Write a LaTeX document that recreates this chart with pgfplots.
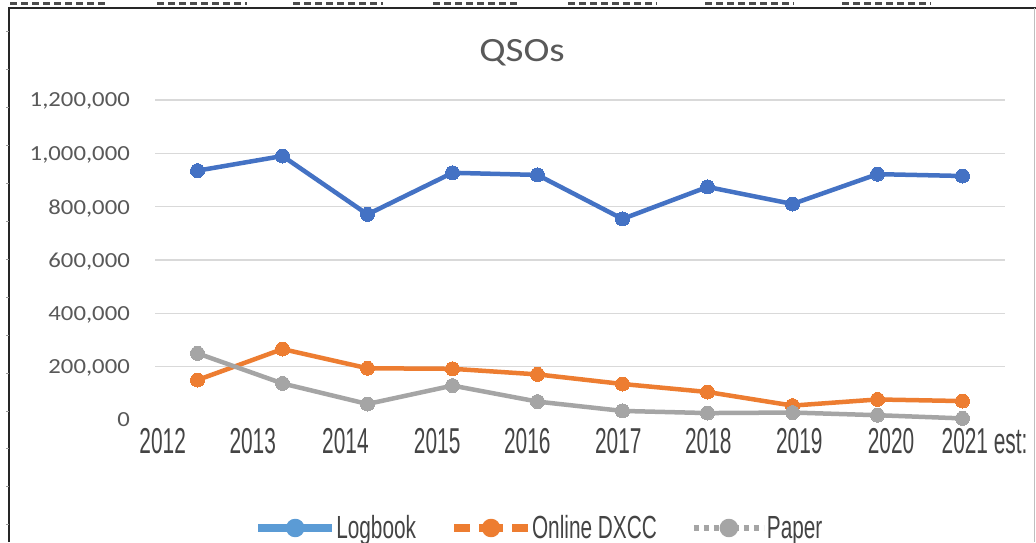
\documentclass[border=0pt]{standalone}
\usepackage{pgfplots}
\pgfplotsset{compat=1.18}
\usepackage{fontspec}
\setmainfont{Carlito}
\newfontfamily\calfont{Carlito}[FakeStretch=1.15]
\newfontfamily\narrowf{Liberation Sans}[FakeStretch=0.58]
\newfontfamily\legf{Liberation Sans}[FakeStretch=0.65]
\definecolor{cblue}{HTML}{4472C4}
\definecolor{lblue}{HTML}{5B9BD5}
\definecolor{corange}{HTML}{ED7D31}
\definecolor{cgray}{HTML}{A5A5A5}
\definecolor{gridgray}{HTML}{D9D9D9}
\definecolor{ticktxt}{HTML}{595959}
\definecolor{xtxt}{HTML}{444444}
\begin{document}
\begin{tikzpicture}
\useasboundingbox (0,0) rectangle (1036pt,542pt);
\fill[white] (0,0) rectangle (1036pt,542pt);
% frame
\draw[line width=2pt, black!85] (9pt,0pt) -- (9pt,534pt) -- (1036pt,534pt);
\draw[line width=1pt, black!25] (1034pt,0pt) -- (1034pt,534pt);
\foreach \k in {0,...,13} {\draw[black!40, line width=1pt] (6pt,{(510-37.9*\k)*1pt}) -- (9pt,{(510-37.9*\k)*1pt});}
\foreach \a/\b in {10/107,157/247,293/383,433/520,568/657,705/794,842/931}
  {\draw[line width=3pt, black!70, dash pattern=on 7pt off 4pt] (\a pt,538.5pt) -- (\b pt,538.5pt);}
\node[font=\calfont\fontsize{34}{34}\selectfont, text=ticktxt, anchor=base, inner sep=0pt] at (522pt,480pt) {QSOs};
\begin{axis}[
  at={(155pt,122pt)}, anchor=south west,
  width=850pt, height=320pt, scale only axis,
  xmin=-0.5, xmax=9.5, ymin=0, ymax=1200000,
  axis line style={draw=none},
  major tick length=0pt, minor tick length=0pt,
  xtick={-0.41,0.65,1.74,2.82,3.88,4.95,6.01,7.08,8.16,9.26},
  xticklabels={2012,2013,2014,2015,2016,2017,2018,2019,2020,{2021 est:}},
  xticklabel style={font=\narrowf\fontsize{36}{36}\selectfont, text=xtxt, inner sep=0pt, anchor=north, yshift=-8pt},
  ytick={0,200000,400000,600000,800000,1000000,1200000},
  minor ytick={200000,400000,600000,800000,1000000,1200000},
  yminorgrids=true,
  minor grid style={color=gridgray, line width=1.3pt},
  scaled y ticks=false,
  yticklabel style={font=\calfont\fontsize{21.5}{21.5}\selectfont, text=ticktxt, inner sep=0pt, anchor=east, xshift=-25pt, text depth=0pt,
    /pgf/number format/fixed, /pgf/number format/1000 sep={,}, /pgf/number format/assume math mode=true},
  legend style={at={(0.113,-0.3375)}, anchor=west, draw=none, fill=none, legend columns=3,
    font=\legf\fontsize{32}{32}\selectfont, text=xtxt, nodes={inner sep=0pt},
    /tikz/every odd column/.append style={column sep=0pt},
    /tikz/every even column/.append style={column sep=34pt}},
]
\addplot[color=cblue, line width=4.5pt, line join=round, mark=*, mark size=7pt, mark options={fill=cblue, draw=cblue, line width=0pt},
  legend image code/.code={\draw[line width=8pt, lblue] (0pt,0pt) -- (74pt,0pt); \fill[lblue] (37pt,0pt) circle (7pt);}]
  coordinates {(0,935000) (1,990000) (2,771000) (3,927000) (4,919000) (5,754000) (6,874000) (7,810000) (8,922000) (9,915000)};
\addlegendentry{Logbook}
\addplot[color=corange, line width=4.5pt, line join=round, mark=*, mark size=7pt, mark options={fill=corange, draw=corange, line width=0pt},
  legend image code/.code={\draw[line width=8pt, corange] (0pt,0pt) -- (16pt,0pt) (25pt,0pt) -- (49pt,0pt) (58pt,0pt) -- (74pt,0pt); \fill[corange] (37pt,0pt) circle (7pt);}]
  coordinates {(0,150000) (1,266000) (2,194000) (3,192000) (4,171000) (5,135000) (6,105000) (7,54000) (8,77000) (9,71000)};
\addlegendentry{Online DXCC}
\addplot[color=cgray, line width=4.5pt, line join=round, mark=*, mark size=7pt, mark options={fill=cgray, draw=cgray, line width=0pt},
  legend image code/.code={\draw[line width=6pt, cgray, dash pattern=on 5pt off 5pt] (0pt,0pt) -- (70pt,0pt); \fill[cgray] (35pt,0pt) circle (7pt);}]
  coordinates {(0,250000) (1,137000) (2,60000) (3,129000) (4,69000) (5,34000) (6,26000) (7,28000) (8,18000) (9,6000)};
\addlegendentry{Paper}
\end{axis}
\end{tikzpicture}
\end{document}
